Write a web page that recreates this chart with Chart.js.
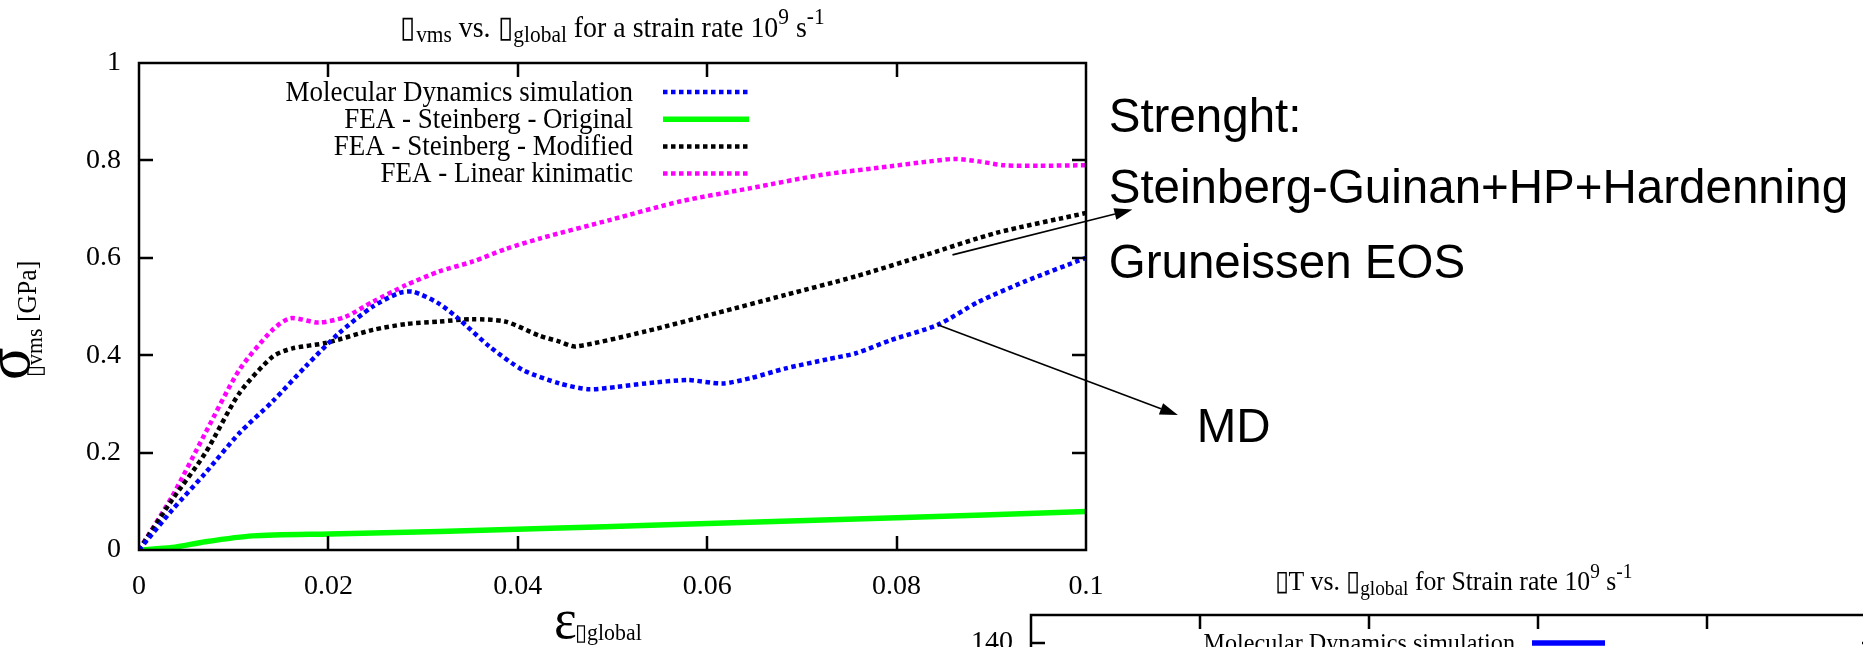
<!DOCTYPE html>
<html>
<head>
<meta charset="utf-8">
<script src="https://cdn.jsdelivr.net/npm/chart.js@4/dist/chart.umd.min.js"></script>
<style>
    html, body { margin: 0; padding: 0; background: #fff; overflow: hidden; width: 1863px; height: 647px; }
    .box { position: absolute; }
</style>
</head>
<body>
<div class="box" style="left:0;top:0;width:1863px;height:647px"><canvas id="stressChart"></canvas></div>
<div class="box" style="left:880px;top:540px;width:1100px;height:600px"><canvas id="tempChart"></canvas></div>
<script>
const SERIF = "'Liberation Serif', 'Times New Roman', serif";
const SANS = "'Liberation Sans', Arial, sans-serif";
const BOX = '\u25AF';

// von Mises stress [GPa] vs. global strain
const mdStrain = [0, 0.0035, 0.007, 0.0106, 0.0141, 0.0176, 0.0211, 0.0247, 0.0275, 0.029, 0.0315, 0.0335, 0.037, 0.0405, 0.0444, 0.0475, 0.0505, 0.0535, 0.0579, 0.0616, 0.0646, 0.0683, 0.0728, 0.0757, 0.0794, 0.0843, 0.0887, 0.0935, 0.1];
const mdStress = [0, 0.082, 0.158, 0.24, 0.305, 0.377, 0.445, 0.5, 0.528, 0.53, 0.508, 0.479, 0.418, 0.37, 0.342, 0.33, 0.335, 0.342, 0.349, 0.342, 0.353, 0.373, 0.392, 0.404, 0.431, 0.462, 0.51, 0.551, 0.6];

const origStrain = [0, 0.0035, 0.007, 0.012, 0.0201, 0.0317, 0.0444, 0.054, 0.08, 0.1];
const origStress = [0, 0.005, 0.017, 0.029, 0.033, 0.038, 0.045, 0.051, 0.066, 0.079];

const modStrain = [0, 0.0035, 0.007, 0.0106, 0.0141, 0.0162, 0.0197, 0.0247, 0.0282, 0.0317, 0.0352, 0.0387, 0.0423, 0.0444, 0.0461, 0.0535, 0.0609, 0.0683, 0.0757, 0.0831, 0.0905, 0.1];
const modStress = [0, 0.103, 0.199, 0.322, 0.397, 0.414, 0.425, 0.452, 0.464, 0.469, 0.474, 0.469, 0.44, 0.428, 0.418, 0.449, 0.486, 0.524, 0.562, 0.606, 0.651, 0.692];

const linStrain = [0, 0.0035, 0.007, 0.0106, 0.0141, 0.016, 0.019, 0.0218, 0.0247, 0.0282, 0.0317, 0.0352, 0.0387, 0.0424, 0.0498, 0.0572, 0.0646, 0.072, 0.0794, 0.0835, 0.0861, 0.0887, 0.0913, 0.095, 0.1];
const linStress = [0, 0.11, 0.24, 0.37, 0.452, 0.476, 0.467, 0.479, 0.51, 0.544, 0.572, 0.592, 0.618, 0.64, 0.678, 0.716, 0.743, 0.77, 0.788, 0.798, 0.803, 0.798, 0.79, 0.789, 0.79];

const seriesLabels = ['Molecular Dynamics simulation', 'FEA - Steinberg - Original', 'FEA - Steinberg - Modified', 'FEA - Linear kinimatic'];
const strainTicks = [0, 0.02, 0.04, 0.06, 0.08, 0.1];
const stressTicks = [0, 0.2, 0.4, 0.6, 0.8, 1];

// second plot, only its top edge is in the picture
const tempTicks = [0, 20, 40, 60, 80, 100, 120, 140];
const tempStrain = [];
const tempRise = [];

function toPoints(xs, ys) {
    return xs.map((x, i) => ({ x: x, y: ys[i] }));
}

// text with sub/superscripts, sx squeezes glyphs sideways (gnuplot fonts run tall)
function drawRich(ctx, parts, x, y, align, sx) {
    sx = sx || 1;
    let total = 0;
    parts.forEach(p => {
        ctx.font = `${p.size}px ${p.family || SERIF}`;
        p.w = ctx.measureText(p.text).width * sx;
        total += p.w + (p.dx || 0);
    });
    let cx = align === 'center' ? x - total / 2 : x;
    parts.forEach(p => {
        cx += p.dx || 0;
        ctx.font = `${p.size}px ${p.family || SERIF}`;
        ctx.save();
        ctx.translate(cx, y + (p.dy || 0));
        ctx.scale(sx, 1);
        ctx.fillText(p.text, 0, 0);
        ctx.restore();
        cx += p.w;
    });
}

function drawArrow(ctx, x1, y1, x2, y2) {
    const ang = Math.atan2(y2 - y1, x2 - x1);
    const len = 18, half = 6;
    ctx.beginPath();
    ctx.moveTo(x1, y1);
    ctx.lineTo(x2 - Math.cos(ang) * len, y2 - Math.sin(ang) * len);
    ctx.stroke();
    ctx.beginPath();
    ctx.moveTo(x2, y2);
    ctx.lineTo(x2 - Math.cos(ang) * len - Math.sin(ang) * half, y2 - Math.sin(ang) * len + Math.cos(ang) * half);
    ctx.lineTo(x2 - Math.cos(ang) * len + Math.sin(ang) * half, y2 - Math.sin(ang) * len - Math.cos(ang) * half);
    ctx.closePath();
    ctx.fill();
}

// gnuplot style box with inward ticks on all four sides
const gnuFrame = {
    id: 'gnuFrame',
    afterDatasetsDraw(chart) {
        const ctx = chart.ctx;
        const a = chart.chartArea;
        const xs = chart.scales.x, ys = chart.scales.y;
        const tick = 14;
        ctx.save();
        ctx.strokeStyle = '#000';
        ctx.lineWidth = 2.5;
        ctx.setLineDash([]);
        ctx.strokeRect(a.left, a.top, a.right - a.left, a.bottom - a.top);
        ctx.beginPath();
        xs.ticks.forEach(t => {
            if (t.value <= xs.min || t.value >= xs.max) return;
            const px = Math.round(xs.getPixelForValue(t.value));
            ctx.moveTo(px, a.bottom); ctx.lineTo(px, a.bottom - tick);
            ctx.moveTo(px, a.top); ctx.lineTo(px, a.top + tick);
        });
        ys.ticks.forEach(t => {
            if (t.value <= ys.min || t.value >= ys.max) return;
            const py = Math.round(ys.getPixelForValue(t.value));
            ctx.moveTo(a.left, py); ctx.lineTo(a.left + tick, py);
            ctx.moveTo(a.right, py); ctx.lineTo(a.right - tick, py);
        });
        ctx.stroke();
        ctx.restore();
    }
};

// key inside the plot: text right aligned, line sample on its right
const gnuLegend = {
    id: 'gnuLegend',
    afterDraw(chart, args, opts) {
        const ctx = chart.ctx;
        const a = chart.chartArea;
        ctx.save();
        ctx.fillStyle = '#000';
        ctx.textAlign = 'right';
        ctx.textBaseline = 'middle';
        ctx.font = `${opts.size}px ${SERIF}`;
        chart.data.datasets.forEach((ds, i) => {
            const y = a.top + opts.top + i * opts.rowHeight;
            ctx.save();
            ctx.translate(a.left + opts.textRight, y + 1);
            ctx.scale(opts.squeeze, 1);
            ctx.fillText(ds.label, 0, 0);
            ctx.restore();
            ctx.beginPath();
            ctx.strokeStyle = ds.borderColor;
            ctx.lineWidth = ds.borderWidth;
            ctx.lineCap = 'butt';
            ctx.setLineDash(ds.borderDash || []);
            ctx.moveTo(a.left + opts.sampleLeft, y);
            ctx.lineTo(a.left + opts.sampleLeft + opts.sampleWidth, y);
            ctx.stroke();
        });
        ctx.restore();
    }
};

const stressText = {
    id: 'stressText',
    afterDraw(chart) {
        const ctx = chart.ctx;
        const a = chart.chartArea;
        const xs = chart.scales.x, ys = chart.scales.y;
        const mid = (a.left + a.right) / 2;
        ctx.save();
        ctx.fillStyle = '#000';
        ctx.strokeStyle = '#000';
        ctx.textAlign = 'left';
        ctx.textBaseline = 'alphabetic';

        drawRich(ctx, [
            { text: BOX, size: 30 },
            { text: 'vms', size: 23, dy: 5 },
            { text: ' vs. ', size: 30 },
            { text: BOX, size: 30 },
            { text: 'global', size: 23, dy: 5 },
            { text: ' for a strain rate 10', size: 30 },
            { text: '9', size: 23, dy: -13 },
            { text: ' s', size: 30 },
            { text: '-1', size: 23, dy: -13 }
        ], mid, a.top - 26, 'center', 0.93);

        drawRich(ctx, [
            { text: '\u03B5', size: 57 },
            { text: BOX + 'global', size: 23, dy: 2, dx: -2 }
        ], 554, a.bottom + 88, 'left', 0.95);

        ctx.save();
        ctx.translate(24, 380);
        ctx.rotate(-Math.PI / 2);
        drawRich(ctx, [
            { text: '\u03C3', size: 64, dy: 5 },
            { text: BOX + 'vms', size: 23, dy: 18, dx: -30 },
            { text: ' [GPa]', size: 27, dy: 12 }
        ], 0, 0, 'left', 0.95);
        ctx.restore();

        // notes to the right of the plot, placed in data units
        const px = v => xs.getPixelForValue(v);
        const py = v => ys.getPixelForValue(v);
        ctx.font = `47.5px ${SANS}`;
        ctx.fillText('Strenght:', px(0.1024), py(0.859));
        ctx.fillText('Steinberg-Guinan+HP+Hardenning', px(0.1024), py(0.713));
        ctx.fillText('Gruneissen EOS', px(0.1024), py(0.559));
        ctx.fillText('MD', px(0.1117), py(0.222));

        ctx.lineWidth = 1.6;
        drawArrow(ctx, px(0.0859), py(0.606), px(0.1049), py(0.699));
        drawArrow(ctx, px(0.0844), py(0.462), px(0.1097), py(0.277));
        ctx.restore();
    }
};

const tempText = {
    id: 'tempText',
    afterDraw(chart) {
        const ctx = chart.ctx;
        const a = chart.chartArea;
        ctx.save();
        ctx.fillStyle = '#000';
        ctx.textBaseline = 'alphabetic';
        drawRich(ctx, [
            { text: BOX + 'T vs. ', size: 28 },
            { text: BOX, size: 28 },
            { text: 'global', size: 21, dy: 5 },
            { text: ' for Strain rate 10', size: 28 },
            { text: '9', size: 21, dy: -12 },
            { text: ' s', size: 28 },
            { text: '-1', size: 21, dy: -12 }
        ], (a.left + a.right) / 2, a.top - 25, 'center', 0.92);
        ctx.restore();
    }
};

function axis(ticksList, min, max, padding, fmt) {
    return {
        type: 'linear',
        min: min,
        max: max,
        afterBuildTicks: s => { s.ticks = ticksList.map(v => ({ value: v })); },
        grid: { display: false, drawTicks: false },
        border: { display: false },
        ticks: {
            color: '#000',
            font: { family: SERIF, size: 28 },
            padding: padding,
            maxRotation: 0,
            autoSkip: false,
            callback: fmt
        }
    };
}

const fmtNum = v => String(+Number(v).toFixed(2));

const stressX = axis(strainTicks, 0, 0.1, 20, fmtNum);
stressX.afterFit = s => { s.height = 97; };
const stressY = axis(stressTicks, 0, 1, 18, fmtNum);
stressY.afterFit = s => { s.width = 139; };

const dotted = [4.5, 3.5];

new Chart(document.getElementById('stressChart'), {
    type: 'line',
    data: {
        datasets: [
            { label: seriesLabels[0], data: toPoints(mdStrain, mdStress), borderColor: '#0000ff', borderWidth: 4.5, borderDash: dotted },
            { label: seriesLabels[1], data: toPoints(origStrain, origStress), borderColor: '#00ff00', borderWidth: 5.5 },
            { label: seriesLabels[2], data: toPoints(modStrain, modStress), borderColor: '#000000', borderWidth: 4.5, borderDash: dotted },
            { label: seriesLabels[3], data: toPoints(linStrain, linStress), borderColor: '#ff00ff', borderWidth: 4.5, borderDash: dotted }
        ]
    },
    options: {
        responsive: true,
        maintainAspectRatio: false,
        animation: false,
        layout: { padding: { left: 0, top: 63, right: 777, bottom: 0 } },
        elements: {
            point: { radius: 0 },
            line: { tension: 0.25, borderCapStyle: 'butt', fill: false }
        },
        scales: { x: stressX, y: stressY },
        plugins: {
            legend: { display: false },
            tooltip: { enabled: false },
            gnuLegend: { size: 29, squeeze: 0.93, top: 29, rowHeight: 27.2, textRight: 494, sampleLeft: 524, sampleWidth: 86 }
        }
    },
    plugins: [gnuFrame, gnuLegend, stressText]
});

const tempX = axis(strainTicks, 0, 0.1, 20, fmtNum);
tempX.afterFit = s => { s.height = 105; };
const tempY = axis(tempTicks, 0, 150, 18, v => String(v));
tempY.afterFit = s => { s.width = 151; };

new Chart(document.getElementById('tempChart'), {
    type: 'line',
    data: {
        datasets: [
            { label: seriesLabels[0], data: toPoints(tempStrain, tempRise), borderColor: '#0000ff', borderWidth: 5.5 }
        ]
    },
    options: {
        responsive: true,
        maintainAspectRatio: false,
        animation: false,
        layout: { padding: { left: 0, top: 75, right: 104, bottom: 0 } },
        elements: { point: { radius: 0 } },
        scales: { x: tempX, y: tempY },
        plugins: {
            legend: { display: false },
            tooltip: { enabled: false },
            gnuLegend: { size: 26, squeeze: 0.93, top: 28, rowHeight: 27.2, textRight: 484, sampleLeft: 501, sampleWidth: 73 }
        }
    },
    plugins: [gnuFrame, gnuLegend, tempText]
});
</script>
</body>
</html>
